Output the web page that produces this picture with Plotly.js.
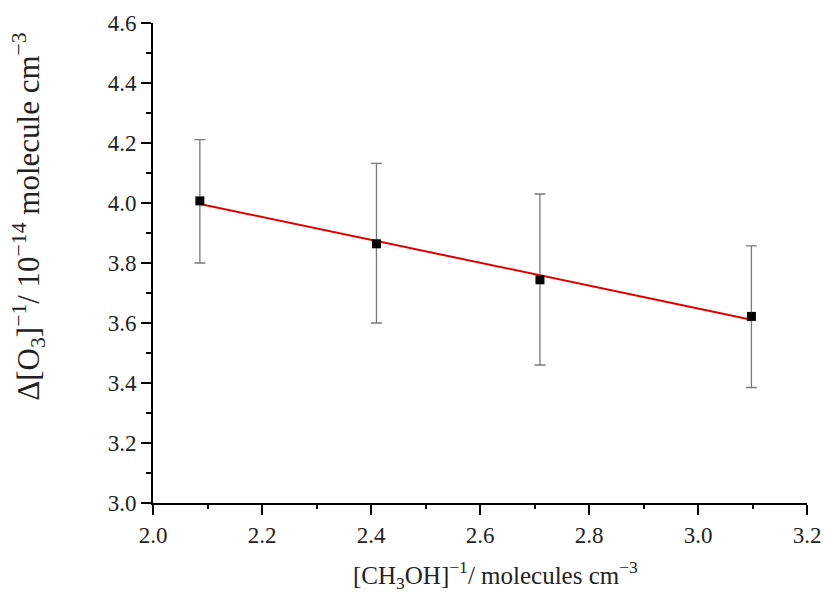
<!DOCTYPE html>
<html>
<head>
<meta charset="utf-8">
<script src="https://cdn.plot.ly/plotly-3.0.1.min.js"></script>
<style>html,body{margin:0;padding:0;background:#fff;}#chart{width:827px;height:596px;}</style>
</head>
<body>
<div id="chart"></div>
<script>
// Data
var xVals = [2.086, 2.410, 2.710, 3.098];
var yVals = [4.007, 3.864, 3.744, 3.622];
var errUpper = [4.211, 4.132, 4.030, 3.857];
var errLower = [3.800, 3.600, 3.460, 3.385];
var fitX = [2.086, 3.098];
var fitY = [3.997, 3.611];
var xRange = [2.0, 3.2];
var yRange = [3.0, 4.6];

var errPlus = yVals.map(function(v, i){ return errUpper[i] - v; });
var errMinus = yVals.map(function(v, i){ return v - errLower[i]; });

var traces = [
  {
    x: fitX, y: fitY, mode: 'lines', type: 'scatter',
    line: {color: '#e00000', width: 2}, hoverinfo: 'skip'
  },
  {
    x: xVals, y: yVals, mode: 'markers', type: 'scatter',
    marker: {symbol: 'square', size: 9, color: '#000000'},
    error_y: {type: 'data', symmetric: false, array: errPlus, arrayminus: errMinus,
              color: '#7a7a7a', thickness: 1.3, width: 5.5}
  },
  {
    x: xRange, y: yRange, xaxis: 'x2', yaxis: 'y2', mode: 'markers', type: 'scatter',
    marker: {opacity: 0, size: 1}, hoverinfo: 'skip'
  }
];

var FAM = 'Liberation Serif, serif';

var layout = {
  width: 827, height: 596,
  margin: {l: 153, r: 20, t: 23, b: 93},
  paper_bgcolor: '#fff', plot_bgcolor: '#fff',
  showlegend: false,
  font: {family: FAM, size: 23, color: '#222'},
  xaxis: {
    range: xRange, tickmode: 'linear', tick0: 2.0, dtick: 0.2, tickformat: '.1f',
    showgrid: false, zeroline: false, showline: true, linecolor: '#000', linewidth: 2,
    ticks: 'outside', ticklen: 10, tickwidth: 2, tickcolor: '#000',
    tickfont: {size: 23, family: FAM, color: '#222'}
  },
  yaxis: {
    range: yRange, tickmode: 'linear', tick0: 3.0, dtick: 0.2, tickformat: '.1f',
    showgrid: false, zeroline: false, showline: true, linecolor: '#000', linewidth: 2,
    ticks: 'outside', ticklen: 10, tickwidth: 2, tickcolor: '#000',
    tickfont: {size: 23, family: FAM, color: '#222'}
  },
  xaxis2: {
    overlaying: 'x', side: 'bottom', anchor: 'y', range: xRange, tickmode: 'linear', tick0: 2.1, dtick: 0.2,
    showgrid: false, zeroline: false, showline: false, showticklabels: false,
    ticks: 'outside', ticklen: 5, tickwidth: 2, tickcolor: '#000'
  },
  yaxis2: {
    overlaying: 'y', side: 'left', anchor: 'x', range: yRange, tickmode: 'linear', tick0: 3.1, dtick: 0.2,
    showgrid: false, zeroline: false, showline: false, showticklabels: false,
    ticks: 'outside', ticklen: 6, tickwidth: 2, tickcolor: '#000'
  },
  annotations: [
    {
      xref: 'paper', yref: 'paper', x: -0.19, y: 0.596, xanchor: 'center', yanchor: 'middle',
      textangle: -90, showarrow: false,
      text: 'Δ[O<sub>3</sub>]<sup>−1</sup>/ 10<sup>−14</sup> molecule cm<sup>−3</sup>',
      font: {size: 31, family: FAM, color: '#222'}
    },
    {
      xref: 'paper', yref: 'paper', x: 0.523, y: -0.15, xanchor: 'center', yanchor: 'middle',
      showarrow: false,
      text: '[CH<sub>3</sub>OH]<sup>−1</sup>/ molecules cm<sup>−3</sup>',
      font: {size: 25, family: FAM, color: '#222'}
    }
  ]
};

Plotly.newPlot('chart', traces, layout, {displayModeBar: false, staticPlot: true});
</script>
</body>
</html>
